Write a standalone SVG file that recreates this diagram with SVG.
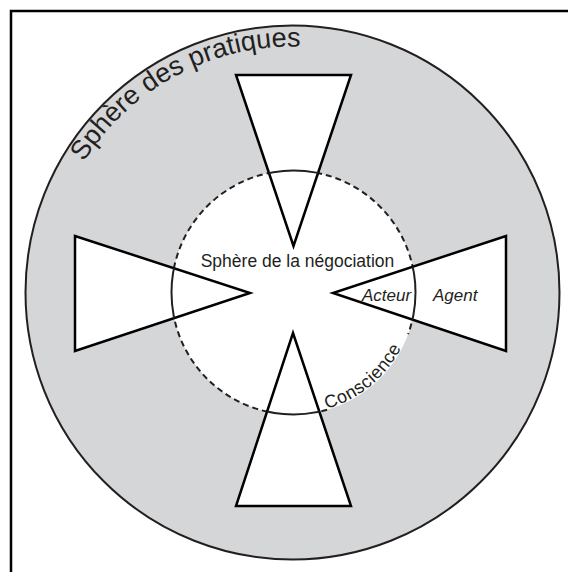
<svg xmlns="http://www.w3.org/2000/svg" width="568" height="572" viewBox="0 0 568 572">
<style>
.tri{fill:#ffffff;stroke:#000000;stroke-width:2.5;stroke-linejoin:miter}
.lbl{font-family:"Liberation Sans",Arial,sans-serif;fill:#231f20}
</style>
<defs>
<path id="outerTextPath" d="M83.9,162.1 A246,246 0 0 1 415.5,79.5"/>
<path id="innerTextPath" d="M326.8,408.8 A121,121 0 0 0 410.4,323.8"/>
<clipPath id="triClip">
<polygon points="236,75 351,75 293.5,246"/>
<polygon points="75,236 75,351 250,293"/>
<polygon points="506,236 506,351 333,293"/>
<polygon points="236,506 351,506 293,333"/>
</clipPath>
</defs>
<rect width="568" height="572" fill="#ffffff"/>
<g id="frame"><path d="M11,572 V11 H568" fill="none" stroke="#000000" stroke-width="2.5"/></g>
<g id="sphere-pratiques">
<circle cx="292.5" cy="292.5" r="267" fill="#d5d6d8" stroke="#231f20" stroke-width="2"/>
<text class="lbl" font-size="27"><textPath href="#outerTextPath">Sphère des pratiques</textPath></text>
</g>
<g id="sphere-negociation">
<circle cx="293.5" cy="292.5" r="122" fill="#ffffff"/>
<path d="M327.1,409.8 A122,122 0 1 1 408.1,334.2" fill="none" stroke="#231f20" stroke-width="2" stroke-dasharray="6 4"/>
</g>
<g id="triangle-top"><polygon class="tri" points="236,75 351,75 293.5,246"/></g>
<g id="triangle-left"><polygon class="tri" points="75,236 75,351 250,293"/></g>
<g id="triangle-right"><polygon class="tri" points="506,236 506,351 333,293"/></g>
<g id="triangle-bottom"><polygon class="tri" points="236,506 351,506 293,333"/></g>
<g id="conscience-arcs"><circle cx="293.5" cy="292.5" r="122" fill="none" stroke="#231f20" stroke-width="2" clip-path="url(#triClip)"/></g>
<g id="labels">
<text class="lbl" x="297.5" y="267" font-size="17.5" text-anchor="middle">Sphère de la négociation</text>
<text class="lbl" x="362" y="301" font-size="17" font-style="italic">Acteur</text>
<text class="lbl" x="433" y="301" font-size="17" font-style="italic">Agent</text>
<text class="lbl" font-size="18" letter-spacing="0.5"><textPath href="#innerTextPath">Conscience</textPath></text>
</g>
</svg>
